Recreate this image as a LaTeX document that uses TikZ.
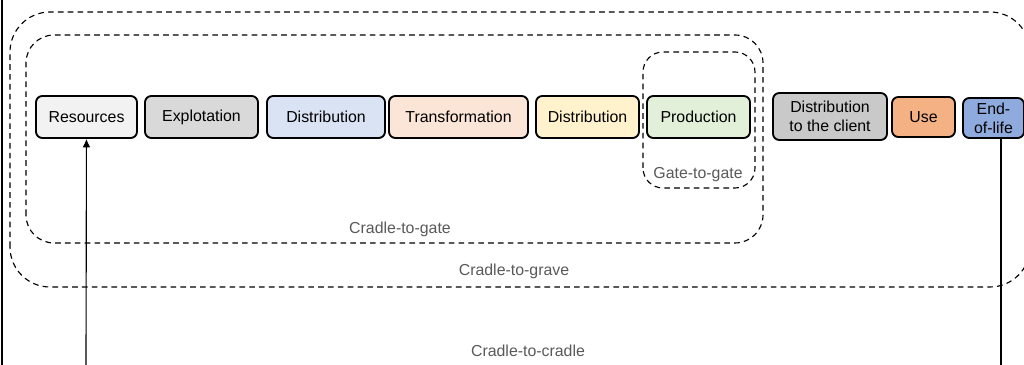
\documentclass[tikz,border=0pt]{standalone}
\usepackage{fontspec}
\setmainfont{Liberation Sans}
\usetikzlibrary{arrows.meta}

\definecolor{cRes}{HTML}{F2F2F2}
\definecolor{cExpl}{HTML}{D9D9D9}
\definecolor{cDistA}{HTML}{DAE3F3}
\definecolor{cTrans}{HTML}{FBE5D6}
\definecolor{cDistB}{HTML}{FFF2CC}
\definecolor{cProd}{HTML}{E2F0D9}
\definecolor{cDistC}{HTML}{C9C9C9}
\definecolor{cUse}{HTML}{F4B183}
\definecolor{cEoL}{HTML}{8FAADC}
\definecolor{lbl}{HTML}{595959}

\begin{document}
\begin{tikzpicture}[stage/.style={rectangle, rounded corners=4.5pt, draw=black, line width=1.3pt, minimum height=1.05cm, align=center, inner sep=1pt, font=\fontsize{11.3}{13.5}\selectfont},
  frame/.style={draw=black, dashed, dash pattern=on 4pt off 3pt, line width=0.8pt},
  tag/.style={text=lbl, font=\fontsize{11.3}{13.5}\selectfont}]

\clip (0, 0) rectangle (25.6, 9.125);

\draw [line width=1.6pt] (0.05, 0) -- (0.05, 9.125);

%\draw [frame, rounded corners=1cm] (0.25, 0.3) rectangle (25.75, 9.3);
\draw [frame, rounded corners=1cm] (0.25, 1.95) rectangle (25.75, 8.825);
\draw [frame, rounded corners=0.7cm] (0.65, 3.05) rectangle (19.075, 8.25);
\draw [frame, rounded corners=0.5cm] (16.075, 4.425) rectangle (18.875, 7.825);

\node [stage, fill=cRes, minimum width=2.525cm] (Res) at (2.1625, 6.2) {Resources};
\node [stage, fill=cExpl, minimum width=2.825cm] (Expl) at (5.0375, 6.2) {Explotation};
\node [stage, fill=cDistA, minimum width=2.95cm] (DistA) at (8.15, 6.2) {Distribution};
\node [stage, fill=cTrans, minimum width=3.475cm] (Trans) at (11.4625, 6.2) {Transformation};
\node [stage, fill=cDistB, minimum width=2.575cm] (DistB) at (14.6875, 6.2) {Distribution};
\node [stage, fill=cProd, minimum width=2.575cm] (Prod) at (17.4625, 6.2) {Production};
\node [stage, fill=cDistC, minimum width=2.85cm, minimum height=1.175cm] (DistC) at (20.75, 6.2125) {Distribution\\to the client};
\node [stage, fill=cUse, minimum width=1.575cm, minimum height=1.0cm] (Use) at (23.0875, 6.2) {Use};
\node [stage, fill=cEoL, minimum width=1.525cm, minimum height=1.0cm] (EoL) at (24.8375, 6.175) {End-\\of-life};

\node [tag] (gate) at (10.0, 3.4) {Cradle-to-gate};
\node [tag] (grave) at (12.85, 2.35) {Cradle-to-grave};
\node [tag] (cradle) at (13.2, 0.35) {Cradle-to-cradle};
\node [tag] (g2g) at (17.45, 4.75) {Gate-to-gate};

\coordinate (inRes) at (2.15, 0);
\coordinate (outEoL) at (25.025, 0);

\draw [-{Latex[length=6pt, width=5.5pt]}, line width=0.8pt] (inRes) to (Res);
\draw [line width=0.8pt] (EoL.south -| outEoL) to (outEoL);

\end{tikzpicture}
\end{document}
